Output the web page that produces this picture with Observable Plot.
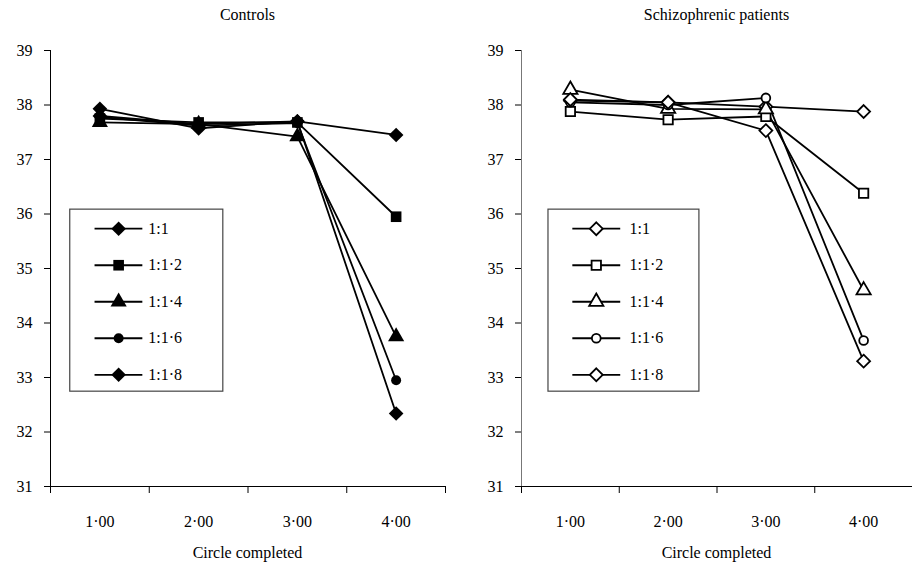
<!DOCTYPE html>
<html><head><meta charset="utf-8">
<script src="https://cdn.jsdelivr.net/npm/d3@7"></script>
<script src="https://cdn.jsdelivr.net/npm/@observablehq/plot@0.6"></script>
<style>
body{margin:0;background:#fff;font-family:"Liberation Serif","DejaVu Serif","Noto Serif","Times New Roman",Times,serif;color:#000;}
#wrap{display:flex;width:912px;height:570px;overflow:hidden;}
.panel{position:relative;width:456px;height:570px;}
.title{font-size:16px;text-align:center;height:30px;line-height:30px;}
.cap{font-size:16px;text-align:center;height:35px;line-height:35px;}
svg{display:block;}
svg text{font-family:"Liberation Serif","DejaVu Serif","Noto Serif","Times New Roman",Times,serif;}
</style></head><body><div id="wrap"></div>
<script>
// categories
const circles = [1, 2, 3, 4];
const circleLabels = ["1·00", "2·00", "3·00", "4·00"];
const ratios = ["1:1", "1:1·2", "1:1·4", "1:1·6", "1:1·8"];
const yTicks = [31, 32, 33, 34, 35, 36, 37, 38, 39];

// Controls
const ctl_1_1 = [37.80, 37.65, 37.70, 37.45];
const ctl_1_12 = [37.75, 37.68, 37.68, 35.95];
const ctl_1_14 = [37.68, 37.65, 37.42, 33.75];
const ctl_1_16 = [37.78, 37.62, 37.67, 32.95];
const ctl_1_18 = [37.93, 37.57, 37.70, 32.34];

// Schizophrenic patients
const sch_1_1 = [38.08, 38.05, 37.97, 37.88];
const sch_1_12 = [37.88, 37.73, 37.79, 36.38];
const sch_1_14 = [38.28, 37.93, 37.92, 34.60];
const sch_1_16 = [38.05, 38.00, 38.13, 33.68];
const sch_1_18 = [38.10, 38.05, 37.53, 33.30];

const symbols = ["diamond2", "square", "triangle", "circle", "diamond2"];
const radii = [6.6, 6.0, 6.0, 5.0, 6.6];
const FONT = '"Liberation Serif","DejaVu Serif","Noto Serif","Times New Roman",Times,serif';

function panel(title, seriesArrays, filled, opt) {
  const div = document.createElement("div");
  div.className = "panel";
  const t = document.createElement("div");
  t.className = "title";
  t.style.paddingLeft = opt.ml + "px";
  t.style.paddingRight = opt.mr + "px";
  t.textContent = title;
  div.appendChild(t);

  const series = seriesArrays.map((vals, i) => circles.map((c, j) => ({c, v: vals[j], s: ratios[i]})));
  const leg = ratios.map((r, i) => ({r, i, y: opt.legTop - i * opt.legStep}));

  const marks = [
    Plot.ruleX([0.5], {y1: 31, y2: 39, stroke: opt.yAxisColor, strokeWidth: 1}),
    Plot.axisY(yTicks, {tickSize: 6, tickPadding: opt.ytp, fontSize: 16, label: null, tickFormat: d => String(d), stroke: "#000"}),
    Plot.axisX([0.5, 1.5, 2.5, 3.5, 4.5], {tickSize: 7, tickFormat: () => "", label: null}),
    Plot.axisX(circles, {tickSize: 0, tickPadding: 29, tickFormat: d => circleLabels[d - 1], fontSize: 16, label: null}),
    Plot.ruleY([31], {x1: 0.5, x2: 4.5, stroke: "#000", strokeWidth: 1.2}),
    // legend box
    Plot.rect([0], {x1: opt.box[0], x2: opt.box[1], y1: opt.box[2], y2: opt.box[3], fill: "white", stroke: "#444", strokeWidth: 1.2}),
    Plot.link(leg, {x1: opt.lx[0], x2: opt.lx[1], y1: "y", y2: "y", stroke: "#000", strokeWidth: 1.8}),
    Plot.text(leg, {x: opt.lx[3], y: "y", text: "r", textAnchor: "start", fontSize: 16, fill: "#000"})
  ];
  series.forEach((d, i) => {
    marks.push(Plot.line(d, {x: "c", y: "v", stroke: "#000", strokeWidth: 1.8}));
  });
  series.forEach((d, i) => {
    const style = filled
      ? {fill: "#000", stroke: "none"}
      : {fill: "#fff", stroke: "#000", strokeWidth: 1.8};
    const r = filled ? radii[i] : radii[i] * 0.88;
    marks.push(Plot.dot(d, {x: "c", y: "v", symbol: symbols[i], r, ...style}));
    marks.push(Plot.dot(leg.filter(l => l.i === i), {x: opt.lx[2], y: "y", symbol: symbols[i], r, ...style}));
  });

  const svg = Plot.plot({
    width: 456, height: 505,
    marginLeft: opt.ml, marginRight: opt.mr, marginTop: 20, marginBottom: 49,
    style: {fontFamily: FONT, fontSize: "16px", color: "#000", background: "white"},
    x: {type: "linear", domain: [0.5, 4.5], axis: null},
    y: {domain: [31, 39], axis: null},
    marks
  });
  div.appendChild(svg);
  const cap = document.createElement("div");
  cap.className = "cap";
  cap.style.paddingLeft = opt.ml + "px";
  cap.style.paddingRight = opt.mr + "px";
  cap.textContent = "Circle completed";
  div.appendChild(cap);
  return div;
}

const wrap = document.getElementById("wrap");
wrap.appendChild(panel("Controls", [ctl_1_1, ctl_1_12, ctl_1_14, ctl_1_16, ctl_1_18], true, {
  ml: 50, mr: 11, ytp: 12, yAxisColor: "#000",
  box: [0.70, 2.25, 36.08, 32.74],
  lx: [0.946, 1.43, 1.19, 1.49],
  legTop: 35.73, legStep: 0.67
}));
wrap.appendChild(panel("Schizophrenic patients", [sch_1_1, sch_1_12, sch_1_14, sch_1_16, sch_1_18], false, {
  ml: 65, mr: 0, ytp: 12, yAxisColor: "#777",
  box: [0.776, 2.32, 36.08, 32.74],
  lx: [1.02, 1.51, 1.265, 1.605],
  legTop: 35.73, legStep: 0.67
}));
</script>
</body></html>
